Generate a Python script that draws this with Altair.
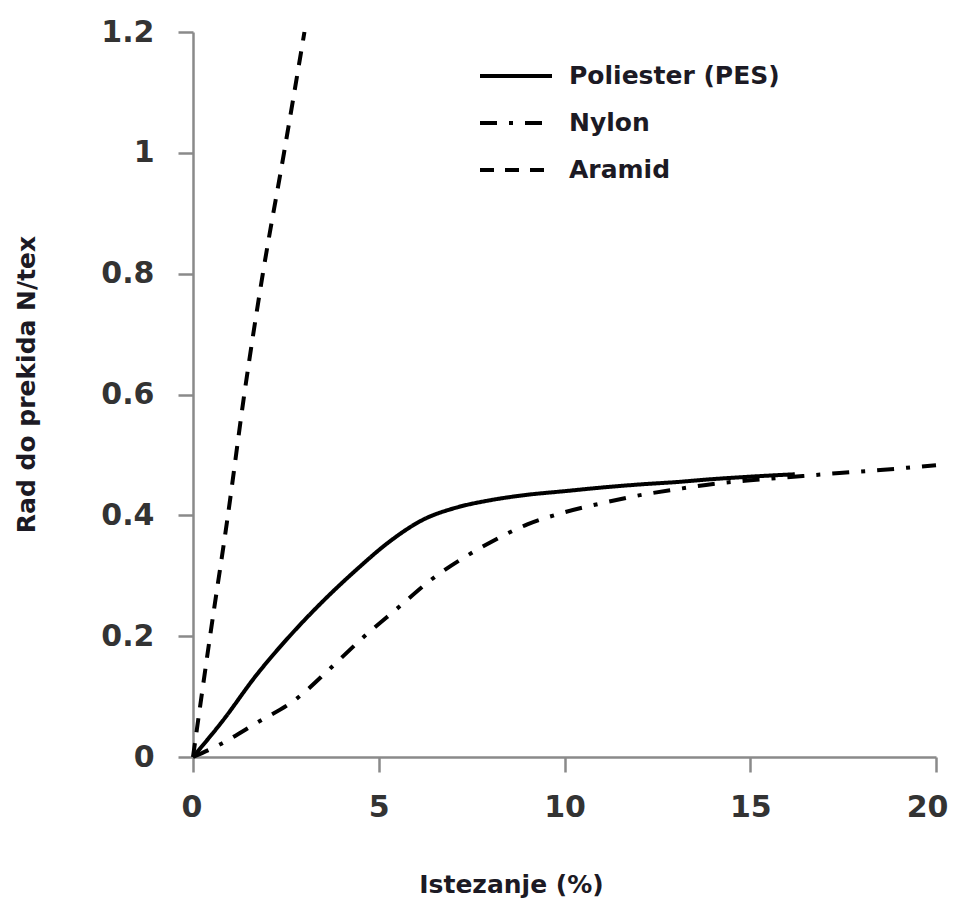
import altair as alt
import pandas as pd

series_names = ["Poliester (PES)", "Nylon", "Aramid"]

pes_x = [0, 0.8, 1.7, 2.6, 3.5, 4.4, 5.3, 6.2, 7.1, 8.0, 9.0, 10.0, 11.0, 12.0, 13.0, 14.0, 15.0, 16.2]
pes_y = [0, 0.06, 0.135, 0.2, 0.258, 0.31, 0.357, 0.393, 0.413, 0.425, 0.434, 0.44, 0.446, 0.451, 0.455, 0.46, 0.464, 0.468]

nylon_x = [0, 0.7, 1.7, 2.8, 3.7, 4.6, 5.5, 6.4, 7.4, 8.0, 9.0, 10.0, 11.0, 12.0, 13.0, 14.0, 15.0, 16.0, 17.4, 18.5, 20.0]
nylon_y = [0, 0.02, 0.056, 0.097, 0.147, 0.199, 0.246, 0.293, 0.334, 0.355, 0.385, 0.405, 0.42, 0.433, 0.443, 0.452, 0.458, 0.463, 0.47, 0.475, 0.483]

aramid_x = [0, 0.46, 0.94, 1.38, 1.88, 2.45, 3.0]
aramid_y = [0, 0.2, 0.4, 0.6, 0.8, 1.0, 1.2]

x_ticks = [0, 5, 10, 15, 20]
y_ticks = [0, 0.2, 0.4, 0.6, 0.8, 1.0, 1.2]

rows = []
for name, xs, ys in zip(series_names, [pes_x, nylon_x, aramid_x], [pes_y, nylon_y, aramid_y]):
    for i, (xv, yv) in enumerate(zip(xs, ys)):
        rows.append({"series": name, "x": xv, "y": yv, "order": i})
df = pd.DataFrame(rows)

FONT = "DejaVu Sans"
TITLE_COLOR = "#1c1a24"
LABEL_COLOR = "#333333"
AXIS_COLOR = "#8a8a8a"

chart = alt.Chart(df).mark_line(
    color="black", strokeWidth=4, interpolate="monotone"
).encode(
    x=alt.X(
        "x:Q",
        scale=alt.Scale(domain=[0, 20], nice=False),
        axis=alt.Axis(
            values=x_ticks, format="~g", title="Istezanje (%)",
            titleX=318, titleY=127, titleBaseline="middle", titleAlign="center",
            labelPadding=20, labelFlush=True, labelFlushOffset=12,
        ),
    ),
    y=alt.Y(
        "y:Q",
        scale=alt.Scale(domain=[0, 1.2], nice=False),
        axis=alt.Axis(
            values=y_ticks, format="~g", title="Rad do prekida N/tex",
            titleX=-167, titleY=352, titleBaseline="middle", titleAlign="center",
            labelPadding=24,
        ),
    ),
    strokeDash=alt.StrokeDash(
        "series:N",
        scale=alt.Scale(domain=series_names, range=[[1, 0], [17, 12, 4, 12], [14, 11]]),
        legend=alt.Legend(
            title=None, orient="none", legendX=303, legendY=24,
            symbolType="M-2,0H2", symbolSize=1296, symbolStrokeWidth=4,
            symbolStrokeColor="black", symbolFillColor="transparent",
            labelFont=FONT, labelFontSize=25, labelFontWeight="bold",
            labelColor=TITLE_COLOR, labelOffset=33, labelLimit=0,
            rowPadding=14, padding=0,
        ),
    ),
    detail="series:N",
    order="order:Q",
).properties(
    width=743, height=725,
    autosize=alt.AutoSizeParams(type="none"),
    padding={"left": 185, "top": 24, "right": 15, "bottom": 142},
).configure_view(
    stroke=None
).configure_axis(
    grid=False,
    domainColor=AXIS_COLOR, domainWidth=2.5,
    tickColor=AXIS_COLOR, tickWidth=2.5, tickSize=15,
    labelFont=FONT, labelFontSize=30, labelFontWeight="bold", labelColor=LABEL_COLOR,
    titleFont=FONT, titleFontSize=25, titleFontWeight="bold", titleColor=TITLE_COLOR,
)

chart.save("out.html", embed_options={"renderer": "svg", "actions": False})
